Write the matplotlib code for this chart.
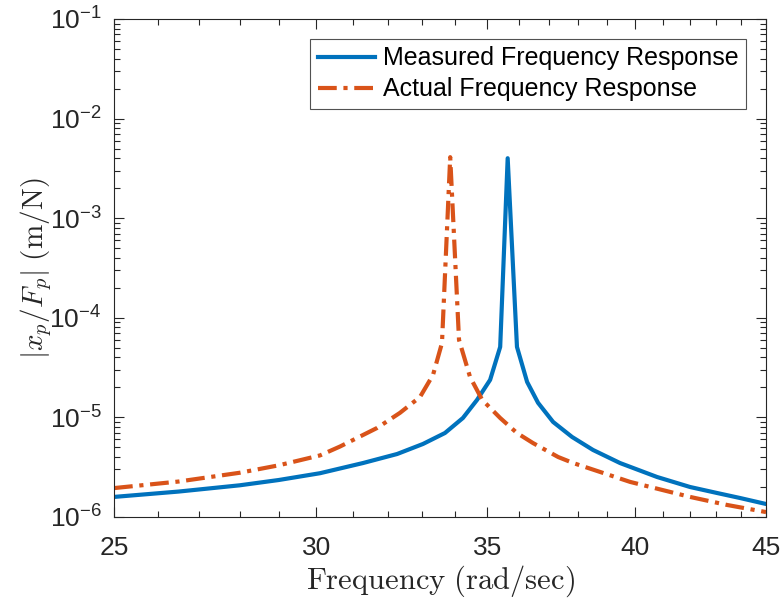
import numpy as np
import matplotlib
matplotlib.use('Agg')
import matplotlib.pyplot as plt
from matplotlib.ticker import FixedLocator, FuncFormatter, LogLocator, NullFormatter

plt.rcParams['font.family'] = ['Liberation Sans', 'DejaVu Sans']
plt.rcParams['mathtext.fontset'] = 'cm'

f_meas = [25.0, 26.5, 28.0, 29.0, 30.10, 31.29, 32.27, 33.03, 33.69, 34.24, 34.68, 35.09, 35.41, 35.65,
          35.95, 36.28, 36.64, 37.14, 37.78, 38.50, 39.45, 40.79, 42.02, 43.06, 43.96, 45.0]
x_meas = [1.59e-6, 1.80e-6, 2.08e-6, 2.35e-6, 2.75e-6, 3.48e-6, 4.29e-6, 5.41e-6, 6.97e-6, 9.86e-6, 1.50e-5,
          2.38e-5, 5.1e-5, 4.0e-3,
          5.1e-5, 2.27e-5, 1.40e-5, 9.0e-6, 6.36e-6, 4.71e-6, 3.48e-6, 2.52e-6, 2.00e-6, 1.74e-6, 1.55e-6, 1.35e-6]

# actual response
f_act = [25.0, 26.5, 28.0, 29.0, 30.1, 30.65, 31.69, 32.35, 32.94, 33.33, 33.60, 33.85, 34.12, 34.46,
         34.84, 35.41, 35.95, 36.47, 37.31, 37.82, 39.81, 42.02, 43.45, 45.0]
x_act = [1.95e-6, 2.27e-6, 2.78e-6, 3.30e-6, 4.15e-6, 5.1e-6, 7.83e-6, 1.11e-5, 1.60e-5, 2.67e-5, 5.58e-5,
         4.1e-3, 6.0e-5, 2.55e-5,
         1.50e-5, 9.86e-6, 6.97e-6, 5.53e-6, 4.0e-6, 3.48e-6, 2.25e-6, 1.59e-6, 1.32e-6, 1.12e-6]

xticks = [25, 30, 35, 40, 45]
blue = '#0072BD'
orange = '#D95319'
dark = '#262626'

fig = plt.figure(figsize=(7.82, 6.01), dpi=100)
ax = fig.add_axes([0.1458, 0.1398, 0.8338, 0.8286])

ax.loglog(f_meas, x_meas, color=blue, lw=3, label='Measured Frequency Response')
ax.loglog(f_act, x_act, color=orange, lw=3, linestyle=(0, (4.5, 1.6, 1, 1.6)),
          label='Actual Frequency Response')

ax.set_xlim(25, 45)
ax.set_ylim(1e-6, 1e-1)

ax.xaxis.set_major_locator(FixedLocator(xticks))
ax.xaxis.set_minor_locator(FixedLocator([v for v in range(26, 45) if v % 5 != 0]))
ax.xaxis.set_major_formatter(FuncFormatter(lambda v, p: '%d' % v))
ax.xaxis.set_minor_formatter(NullFormatter())
ax.yaxis.set_major_locator(LogLocator(base=10, numticks=10))
ax.yaxis.set_minor_locator(LogLocator(base=10, subs=np.arange(2, 10), numticks=10))
ax.yaxis.set_major_formatter(FuncFormatter(lambda v, p: r'$\mathregular{10^{%d}}$' % round(np.log10(v))))
ax.yaxis.set_minor_formatter(NullFormatter())

ax.tick_params(which='both', direction='in', top=True, right=True, colors=dark, labelsize=19, width=0.8)
ax.tick_params(which='major', length=7)
ax.tick_params(axis='x', which='major', pad=14)
ax.tick_params(axis='y', which='major', pad=9)
ax.tick_params(which='minor', length=4)
for s in ax.spines.values():
    s.set_color(dark)
    s.set_linewidth(0.8)

ax.set_xlabel(r'$\mathrm{Frequency\ (rad/sec)}$', fontsize=22, color=dark, labelpad=2)
ax.set_ylabel(r'$|x_p/F_p|\ \mathrm{(m/N)}$', fontsize=21, color=dark, labelpad=-3)

leg = ax.legend(loc='upper right', fontsize=18, frameon=True, fancybox=False,
                edgecolor=dark, handlelength=2.3, borderpad=0.3, labelspacing=0.28,
                handletextpad=0.3, borderaxespad=0.8)
leg.get_frame().set_linewidth(0.8)

fig.savefig('out.png', dpi=100)
